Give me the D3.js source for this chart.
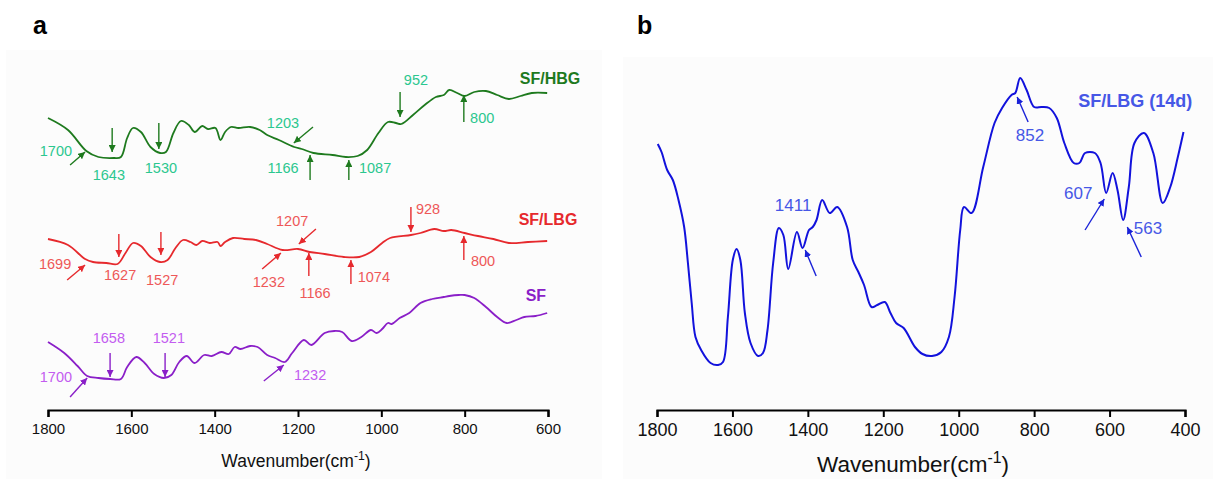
<!DOCTYPE html>
<html>
<head>
<meta charset="utf-8">
<script src="https://cdn.jsdelivr.net/npm/d3@7"></script>
<style>
  body { margin: 0; background: #fff; }
  svg { display: block; font-family: "Liberation Sans", Arial, sans-serif; }
</style>
</head>
<body>
<svg id="chart" width="1213" height="479"></svg>
<script>
// wavenumber (cm-1) and offset intensity (a.u.)
const hbgWn = [1800,1752,1708,1679,1642,1625,1610,1596,1577,1554,1531,1517,1499,1481,1462,1448,1430,1416,1398,1386,1375,1361,1343,1315,1292,1274,1246,1209,1191,1163,1117,1085,1057,1034,1007,984,965,952,924,896,869,850,837,818,800,777,749,722,694,666,639,602];
const hbgVal = [292,280,259,253,252,253,272,282,278,263,257,258,277,289,285,278,284,281,282,270,278,283,282,283,280,275,270,263,261,257,255,253,254,260,277,288,287,286,295,305,313,315,320,317,314,318,319,315,311,314,317,317];

const lbgWn = [1800,1752,1711,1692,1660,1633,1614,1596,1577,1554,1531,1513,1494,1476,1458,1444,1430,1412,1393,1386,1375,1356,1329,1301,1274,1237,1200,1172,1136,1090,1053,1025,998,979,929,906,873,850,832,800,768,731,694,648,602];
const lbgVal = [171,165,151,148,147,146,157,167,164,153,148,150,162,170,168,165,169,167,168,164,168,172,171,170,166,160,161,158,156,153,153,158,167,172,175,177,181,179,180,177,174,171,167,168,169];

const sfWn = [1800,1761,1729,1706,1679,1651,1625,1610,1588,1568,1545,1522,1504,1485,1467,1448,1425,1407,1384,1366,1352,1338,1315,1297,1274,1255,1232,1214,1186,1168,1136,1113,1094,1071,1048,1025,1011,998,984,975,956,933,906,878,850,837,814,800,777,749,722,699,676,657,630,602];
const sfVal = [68,57,44,34,32,31,31,43,53,47,36,32,35,48,54,47,55,54,58,56,63,61,64,63,55,52,48,57,70,65,77,79,78,69,73,80,77,81,87,86,92,97,107,111,113,114,115,115,112,103,93,87,90,93,94,97];

const lbg14Wn = [1798,1788,1773,1758,1743,1728,1718,1708,1698,1683,1658,1638,1625,1612,1599,1589,1579,1567,1552,1532,1519,1507,1492,1477,1465,1452,1429,1414,1397,1387,1377,1362,1342,1322,1296,1281,1266,1251,1231,1216,1196,1181,1166,1146,1116,1096,1071,1046,1026,1011,996,986,966,935,905,885,860,850,837,820,800,780,760,740,720,695,680,665,639,624,609,592,579,564,549,534,509,484,459,439,419,404];
const lbg14Val = [266,258,240,230,210,183,147,107,73,60,47,45,48,93,150,161,150,97,67,54,57,80,147,182,175,141,178,162,180,183,190,210,197,203,183,150,138,125,103,105,108,97,87,82,63,56,54,58,73,113,180,203,197,243,287,302,315,317,332,320,303,303,302,292,267,247,247,257,257,247,217,237,220,190,223,267,277,257,207,223,253,278];

const xTicksA = [1800,1600,1400,1200,1000,800,600];
const xTicksB = [1800,1600,1400,1200,1000,800,600,400];

// peak annotations: label, text position, arrow tail and head (wn, a.u.)
const hbgPeaks = [
  ["1700",1781,259,1747,245,1711,258], ["1643",1654,235,1646,282,1646,258],
  ["1530",1529,242,1534,287,1534,261], ["1203",1236,287,1164,283,1210,267],
  ["1166",1236,242,1171,230,1171,255], ["1087",1015,242,1078,230,1078,250],
  ["952",917,330,955,318,955,293], ["800",758,292,802,288,802,315]
];
const lbgPeaks = [
  ["1699",1783,146,1754,130,1711,145], ["1627",1627,135,1630,176,1630,153],
  ["1527",1526,130,1529,178,1529,155], ["1232",1270,128,1286,141,1241,157],
  ["1207",1214,189,1157,181,1198,166], ["1166",1159,117,1174,134,1174,157],
  ["1074",1018,133,1073,126,1073,150], ["928",888,201,929,203,929,178],
  ["800",756,149,802,150,802,174]
];
const sfPeaks = [
  ["1700",1781,33,1747,13,1706,32], ["1658",1654,72,1651,57,1651,33],
  ["1521",1510,72,1519,57,1519,33], ["1232",1171,35,1282,29,1234,45]
];
const lbg14Peaks = [
  ["1411",1439,205,1378,134,1407,160], ["852",811,275,816,288,845,313],
  ["607",683,217,665,180,614,211], ["563",498,182,516,153,553,183]
];

const svg = d3.select("#chart");
const defs = svg.append("defs");

function marker(id, color) {
  defs.append("marker")
    .attr("id", id)
    .attr("viewBox", "0 0 10 10")
    .attr("refX", 10).attr("refY", 5)
    .attr("markerWidth", 7).attr("markerHeight", 7)
    .attr("markerUnits", "userSpaceOnUse")
    .attr("orient", "auto")
    .append("path")
    .attr("d", "M0,0L10,5L0,10z")
    .attr("fill", color);
}

// faint panel backgrounds, as in the scanned figure
svg.append("rect").attr("x", 6).attr("y", 50).attr("width", 596).attr("height", 429).attr("fill", "#fcfcfc");
svg.append("rect").attr("x", 623).attr("y", 57).attr("width", 590).attr("height", 422).attr("fill", "#fcfcfc");

svg.append("text").attr("x", 33).attr("y", 34).attr("font-size", 25).attr("font-weight", "bold").text("a");
svg.append("text").attr("x", 637).attr("y", 34).attr("font-size", 25).attr("font-weight", "bold").text("b");

const y = d3.scaleLinear().domain([0, 350]).range([410, 60]);

function drawAxis(x, ticks, fontSize) {
  const g = svg.append("g").attr("transform", "translate(0,410)");
  g.call(d3.axisBottom(x).tickValues(d3.range(x.domain()[1], x.domain()[0] + 1, 100)).tickSize(3).tickFormat(""));
  g.call(d3.axisBottom(x).tickValues(ticks).tickSizeInner(7).tickSizeOuter(7).tickPadding(6).tickFormat(d3.format("d")));
  g.select(".domain").attr("stroke-width", 2.2);
  g.selectAll("line").attr("stroke-width", 2);
  g.selectAll("text").attr("font-size", fontSize).attr("font-family", "Liberation Sans, Arial, sans-serif").attr("fill", "#111");
  return g;
}

function axisTitle(cx, cy, fontSize) {
  const t = svg.append("text").attr("x", cx).attr("y", cy).attr("text-anchor", "middle")
    .attr("font-size", fontSize).attr("fill", "#111");
  t.append("tspan").text("Wavenumber(cm");
  t.append("tspan").attr("font-size", fontSize * 0.7).attr("dy", -fontSize * 0.4).text("-1");
  t.append("tspan").attr("dy", fontSize * 0.4).text(")");
}

function drawSpectrum(x, wn, val, color, width) {
  const pts = wn.map((w, i) => [w, val[i]]);
  svg.append("path")
    .datum(pts)
    .attr("fill", "none")
    .attr("stroke", color)
    .attr("stroke-width", width)
    .attr("stroke-linejoin", "round")
    .attr("d", d3.line().x(d => x(d[0])).y(d => y(d[1])).curve(d3.curveCatmullRom.alpha(0.5)));
}

function drawPeaks(x, peaks, textColor, arrowColor, id, fontSize) {
  marker(id, arrowColor);
  const g = svg.append("g");
  g.selectAll("line").data(peaks).enter().append("line")
    .attr("x1", d => x(d[3])).attr("y1", d => y(d[4]))
    .attr("x2", d => x(d[5])).attr("y2", d => y(d[6]))
    .attr("stroke", arrowColor).attr("stroke-width", 1.4)
    .attr("marker-end", "url(#" + id + ")");
  g.selectAll("text").data(peaks).enter().append("text")
    .attr("x", d => x(d[1])).attr("y", d => y(d[2]))
    .attr("text-anchor", "middle").attr("dominant-baseline", "central")
    .attr("font-size", fontSize).attr("fill", textColor)
    .text(d => d[0]);
}

function seriesLabel(x, w, v, text, color, fontSize) {
  svg.append("text").attr("x", x(w)).attr("y", y(v))
    .attr("text-anchor", "middle").attr("dominant-baseline", "central")
    .attr("font-size", fontSize).attr("font-weight", "bold").attr("fill", color).text(text);
}

// panel a
const xa = d3.scaleLinear().domain([1800, 600]).range([48, 548]);
drawAxis(xa, xTicksA, 15);
axisTitle(296, 467, 17.5);
drawSpectrum(xa, hbgWn, hbgVal, "#1e7a1e", 1.8);
drawSpectrum(xa, lbgWn, lbgVal, "#e6292d", 1.8);
drawSpectrum(xa, sfWn, sfVal, "#8a1fc8", 1.8);
drawPeaks(xa, hbgPeaks, "#2bc78f", "#1e7a1e", "arrG", 14.5);
drawPeaks(xa, lbgPeaks, "#ee5858", "#e6292d", "arrR", 14.5);
drawPeaks(xa, sfPeaks, "#c35cf0", "#8a1fc8", "arrP", 14.5);
seriesLabel(xa, 595, 332, "SF/HBG", "#1e7a1e", 16);
seriesLabel(xa, 600, 191, "SF/LBG", "#e6292d", 16);
seriesLabel(xa, 629, 115, "SF", "#8a1fc8", 16);

// panel b
const xb = d3.scaleLinear().domain([1800, 400]).range([657, 1185]);
drawAxis(xb, xTicksB, 18);
axisTitle(913, 472, 22.5);
drawSpectrum(xb, lbg14Wn, lbg14Val, "#1212dc", 2);
drawPeaks(xb, lbg14Peaks, "#4657e6", "#1a22d8", "arrB", 17);
seriesLabel(xb, 532, 309, "SF/LBG (14d)", "#4657e6", 18);
</script>
</body>
</html>
